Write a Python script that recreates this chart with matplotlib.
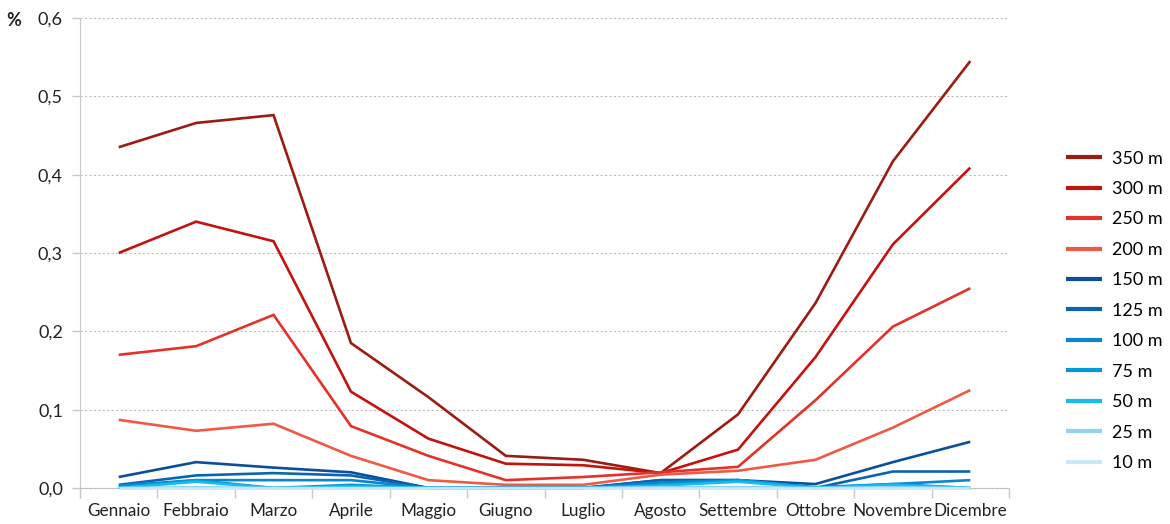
"""
Monthly share by height class, reds for the tall classes and blues for the low ones.
"""

import matplotlib.pyplot as plt
from matplotlib.ticker import FuncFormatter

months = ["Gennaio", "Febbraio", "Marzo", "Aprile", "Maggio", "Giugno",
          "Luglio", "Agosto", "Settembre", "Ottobre", "Novembre", "Dicembre"]

h350 = [0.435, 0.466, 0.476, 0.185, 0.116, 0.041, 0.036, 0.019, 0.094, 0.236, 0.417, 0.545]
h300 = [0.300, 0.340, 0.315, 0.123, 0.063, 0.031, 0.029, 0.019, 0.049, 0.167, 0.311, 0.409]
h250 = [0.170, 0.181, 0.221, 0.079, 0.041, 0.010, 0.014, 0.020, 0.027, 0.112, 0.206, 0.255]
h200 = [0.087, 0.073, 0.082, 0.041, 0.010, 0.004, 0.004, 0.017, 0.022, 0.036, 0.077, 0.125]
h150 = [0.014, 0.033, 0.026, 0.020, 0.000, 0.000, 0.000, 0.010, 0.010, 0.005, 0.033, 0.059]
h125 = [0.004, 0.016, 0.019, 0.016, 0.000, 0.000, 0.000, 0.010, 0.010, 0.000, 0.021, 0.021]
h100 = [0.003, 0.010, 0.010, 0.010, 0.000, 0.000, 0.000, 0.007, 0.010, 0.000, 0.005, 0.010]
h75 = [0.001, 0.010, 0.000, 0.004, 0.000, 0.000, 0.000, 0.004, 0.010, 0.001, 0.005, 0.000]
h50 = [0.000, 0.008, 0.000, 0.002, 0.000, 0.000, 0.000, 0.003, 0.008, 0.000, 0.004, 0.000]
h25 = [0.000, 0.001, 0.000, 0.000, 0.000, 0.000, 0.000, 0.001, 0.001, 0.000, 0.001, 0.000]
h10 = [0.000, 0.000, 0.000, 0.000, 0.000, 0.000, 0.000, 0.000, 0.000, 0.000, 0.000, 0.000]

labels = ["350 m", "300 m", "250 m", "200 m", "150 m", "125 m",
          "100 m", "75 m", "50 m", "25 m", "10 m"]
series = [h350, h300, h250, h200, h150, h125, h100, h75, h50, h25, h10]
colors = ["#9b1c12", "#c4120f", "#e3322a", "#ef5a44", "#0a4f9e", "#0a64b0",
          "#0a85d0", "#0099dd", "#17baec", "#8fd3f2", "#c8e8f8"]


def main():
    plt.rcParams["font.family"] = ["Lato", "DejaVu Sans"]
    plt.rcParams["font.size"] = 12

    fig = plt.figure(figsize=(11.7, 5.24), dpi=100)
    ax = fig.add_axes([80 / 1170, 26 / 524, 929 / 1170, 480 / 524])

    x = range(len(months))
    for vals, lab, col in zip(series, labels, colors):
        ax.plot(x, vals, color=col, linewidth=1.9, label=lab,
                solid_joinstyle="miter", solid_capstyle="butt")

    ax.set_xlim(-0.5, len(months) - 0.5)
    ax.set_ylim(-0.0128, 0.6)

    # y axis: comma decimals, dotted grid
    ax.set_yticks([0.0, 0.1, 0.2, 0.3, 0.4, 0.5, 0.6])
    ax.yaxis.set_major_formatter(FuncFormatter(lambda v, p: f"{v:.1f}".replace(".", ",")))
    ax.yaxis.grid(True, linestyle=(0, (2, 2)), color="#bdbdbd", linewidth=0.8)
    ax.set_axisbelow(True)

    # month labels centred, ticks between months
    ax.set_xticks(list(x))
    ax.set_xticklabels(months)
    ax.set_xticks([i - 0.5 for i in range(len(months) + 1)], minor=True)
    ax.tick_params(axis="x", which="major", length=0, pad=11, labelsize=12.3, colors="#222222")
    ax.tick_params(axis="x", which="minor", length=7, width=1, color="#c8c8c8", direction="out")
    ax.tick_params(axis="y", length=5.8, width=1, color="#c8c8c8", pad=6.5, labelsize=13,
                   labelcolor="#222222")

    for side in ["top", "right"]:
        ax.spines[side].set_visible(False)
    ax.spines["bottom"].set_position(("data", 0))
    ax.spines["bottom"].set_color("#c8c8c8")
    ax.spines["left"].set_color("#c8c8c8")
    ax.spines["bottom"].set_zorder(0.5)

    fig.text(14 / 1170, 1 - 21 / 524, "%", fontsize=13, fontweight="bold",
             ha="center", va="center", color="#222222")

    fig.legend(loc="center left", bbox_to_anchor=(1050 / 1170, 0.407), frameon=False,
               fontsize=13, handlelength=2.0, handletextpad=0.55, labelspacing=0.8,
               borderpad=0.4)
    for line in fig.legends[0].get_lines():
        line.set_linewidth(3)

    fig.savefig("out.png", dpi=100)
    plt.close(fig)


if __name__ == "__main__":
    main()
